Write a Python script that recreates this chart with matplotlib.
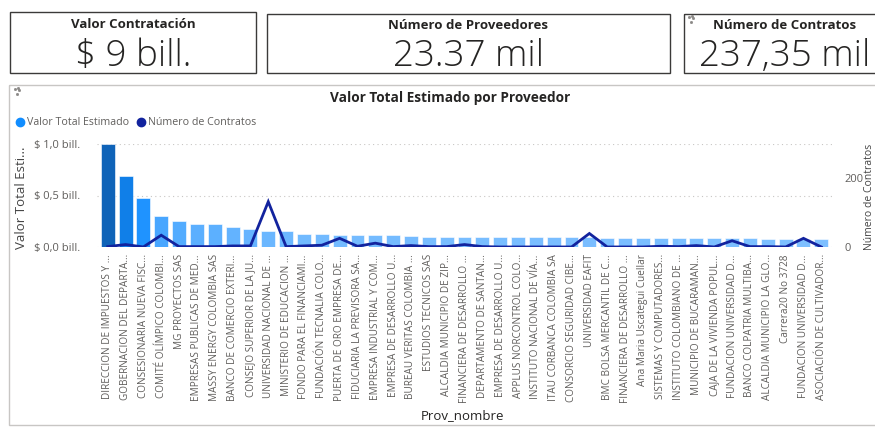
import numpy as np
import matplotlib
matplotlib.use("Agg")
import matplotlib.pyplot as plt
from matplotlib.colors import LinearSegmentedColormap, Normalize
from matplotlib.patches import Rectangle

plt.rcParams['font.family'] = ['Open Sans', 'DejaVu Sans']

# --- data ---
card_titles = ['Valor Contratación', 'Número de Proveedores', 'Número de Contratos']
card_values = ['$ 9 bill.', '23.37 mil', '237,35 mil']

proveedores = [
    'DIRECCION DE IMPUESTOS Y ...', 'GOBERNACION DEL DEPARTA...', 'CONSESIONARIA NUEVA FISC...',
    'COMITÉ OLÍMPICO COLOMBI...', 'MG PROYECTOS SAS', 'EMPRESAS PUBLICAS DE MED...',
    'MASSY ENERGY COLOMBIA SAS', 'BANCO DE COMERCIO EXTERI...', 'CONSEJO SUPERIOR DE LA JU...',
    'UNIVERSIDAD NACIONAL DE ...', 'MINISTERIO DE EDUCACION ...', 'FONDO PARA EL FINANCIAMI...',
    'FUNDACIÓN TECNALIA COLO...', 'PUERTA DE ORO EMPRESA DE...', 'FIDUCIARIA LA PREVISORA SA...',
    'EMPRESA INDUSTRIAL Y COM...', 'EMPRESA DE DESARROLLO U...', 'BUREAU VERITAS COLOMBIA ...',
    'ESTUDIOS TECNICOS SAS', 'ALCALDIA MUNICIPIO DE ZIP...', 'FINANCIERA DE DESARROLLO ...',
    'DEPARTAMENTO DE SANTAN...', 'EMPRESA DE DESARROLLO U...', 'APPLUS NORCONTROL COLO...',
    'INSTITUTO NACIONAL DE VÍA...', 'ITAU CORBANCA COLOMBIA SA', 'CONSORCIO SEGURIDAD CIBE...',
    'UNIVERSIDAD EAFIT', 'BMC BOLSA MERCANTIL DE C...', 'FINANCIERA DE DESARROLLO ...',
    'Ana Maria Uscategui Cuellar', 'SISTEMAS Y COMPUTADORES...', 'INSTITUTO COLOMBIANO DE ...',
    'MUNICIPIO DE BUCARAMAN...', 'CAJA DE LA VIVIENDA POPUL...', 'FUNDACION UNIVERSIDAD D...',
    'BANCO COLPATRIA MULTIBA...', 'ALCALDIA MUNICIPIO LA GLO...', 'Carrera20 No 3728',
    'FUNDACION UNIVERSIDAD D...', 'ASOCIACIÓN DE CULTIVADOR...',
]

# Valor Total Estimado (billones)
valor_total = [1.0, 0.69, 0.48, 0.305, 0.257, 0.225, 0.222, 0.193, 0.177, 0.154,
               0.154, 0.132, 0.125, 0.119, 0.119, 0.119, 0.119, 0.113, 0.103, 0.102,
               0.102, 0.101, 0.100, 0.099, 0.098, 0.097, 0.096, 0.095, 0.094, 0.093,
               0.092, 0.091, 0.090, 0.089, 0.087, 0.086, 0.085, 0.083, 0.082, 0.080,
               0.078]

# Número de Contratos
num_contratos = [2, 8, 1, 35, 2, 2, 2, 4, 4, 132,
                 2, 4, 6, 26, 3, 12, 2, 5, 2, 2,
                 8, 2, 1, 1, 1, 1, 1, 40, 1, 1,
                 1, 3, 2, 5, 1, 19, 2, 2, 1, 26,
                 1]

W, H = 875, 428
fig = plt.figure(figsize=(W / 100, H / 100), dpi=100)

# background layer in pixel coordinates for cards / frames
bg = fig.add_axes([0, 0, 1, 1])
bg.set_xlim(0, W)
bg.set_ylim(H, 0)
bg.axis('off')

cards = [(10, 12, 246, 61), (267, 14, 403, 59), (684, 14, 200, 59)]
title_y = [24, 25, 25]
value_y = [56, 56, 56]
for (x, y, w, h), t, v, ty, vy in zip(cards, card_titles, card_values, title_y, value_y):
    bg.add_patch(Rectangle((x, y), w, h, fill=False, ec='#3b3a39', lw=1.0))
    cx = x + w / 2 if x + w <= W else 785
    bg.text(cx, ty, t, ha='center', va='center', fontsize=9.5,
            fontweight='bold', color='#252423')
    bg.text(cx, vy, v, ha='center', va='center', fontsize=26.5,
            fontweight='light', color='#252423')

# little loading icons of Power BI visuals
for ix, iy in [(17, 91), (691, 19)]:
    bg.plot([ix - 2, ix + 1, ix + 2, ix], [iy - 2, iy - 3, iy - 1, iy + 3], 's',
            ms=1.0, color='#8a8886')

# chart panel frame
bg.add_patch(Rectangle((9, 85), 880, 340, fill=False, ec='#c8c6c4', lw=1.0))
bg.text(450, 98, 'Valor Total Estimado por Proveedor', ha='center', va='center',
        fontsize=9.8, fontweight='bold', color='#252423')

# legend
bg.plot([20], [122], 'o', color='#118dff', ms=6)
bg.text(27, 122, 'Valor Total Estimado', va='center', fontsize=7.7, color='#605e5c')
bg.plot([141], [122], 'o', color='#12239e', ms=6)
bg.text(148, 122, 'Número de Contratos', va='center', fontsize=7.7, color='#605e5c')

bg.text(22, 198, 'Valor Total Esti...', rotation=90, ha='center', va='center',
        fontsize=9.5, color='#444444')
bg.text(869.5, 197, 'Número de Contratos', rotation=90, ha='center', va='center',
        fontsize=7.5, color='#444444')
bg.text(462, 416, 'Prov_nombre', ha='center', va='center', fontsize=9.5, color='#252423')

# main chart axes (pixel box: x 97..832, y 143.7..247.3)
x0, x1, ytop, ybot = 97, 832, 143.7, 247.3
ax = fig.add_axes([x0 / W, 1 - ybot / H, (x1 - x0) / W, (ybot - ytop) / H])
ax.patch.set_alpha(0)

pos = np.arange(len(proveedores))
vals = np.array(valor_total)
cmap = LinearSegmentedColormap.from_list('pbi', ['#7dbfff', '#118dff', '#0f63b8'])
norm = Normalize(vals.min(), vals.max())
ax.bar(pos, vals, width=0.78, color=cmap(norm(vals)), edgecolor='#ffffff',
       linewidth=0.4, zorder=2)

ax.set_xlim(-0.6, len(proveedores) - 0.4)
ax.set_ylim(0, 1.0)
ax.set_yticks([0, 0.5, 1.0])
ax.set_yticklabels(['$ 0,0 bill.', '$ 0,5 bill.', '$ 1,0 bill.'])
ax.grid(axis='y', linestyle=(0, (1, 3)), color='#c8c6c4', lw=0.8, zorder=0)
ax.set_axisbelow(True)
ax.set_xticks(pos)
ax.set_xticklabels(proveedores, rotation=90, fontsize=7.2, color='#605e5c')
ax.tick_params(axis='x', length=0, pad=5)
ax.tick_params(axis='y', length=0, pad=12, labelsize=8, labelcolor='#605e5c')
for s in ax.spines.values():
    s.set_visible(False)

ax2 = ax.twinx()
ax2.plot(pos, num_contratos, color='#12239e', lw=2.0, zorder=3, solid_joinstyle='miter')
ax2.set_ylim(0, 300)
ax2.set_yticks([0, 200])
ax2.tick_params(axis='y', length=0, pad=9, labelsize=8, labelcolor='#605e5c')
for s in ax2.spines.values():
    s.set_visible(False)

fig.savefig('out.png', dpi=100)
